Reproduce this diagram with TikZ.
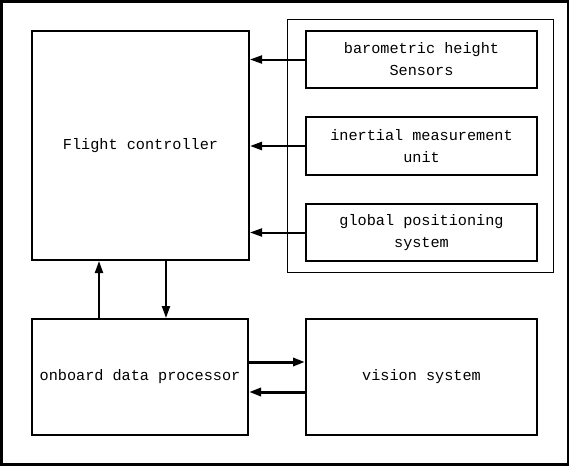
\documentclass[tikz,border=0pt]{standalone}
\usepackage{fontspec}
\setmonofont{Liberation Mono}
\usetikzlibrary{arrows.meta,positioning}

\begin{document}
\begin{tikzpicture}[x=1pt,y=-1pt,black,
block/.style={draw,line width=2pt,inner sep=0pt,align=center,
  font=\ttfamily\fontsize{15.2}{22}\selectfont},
flow/.style={line width=2pt,-{Triangle[length=12pt,width=8pt]}}]
\useasboundingbox (0,0) rectangle (570,466);
\draw[line width=2.5pt] (1.5,1.5) rectangle (568,464.5);
\node[block,minimum width=217pt,minimum height=229pt] (fc) at (140.5,145.5) {Flight controller};
\node[draw,line width=1pt,minimum width=266pt,minimum height=253pt] (group) at (420,145.5) {};
\node[block,minimum width=231pt,minimum height=57pt] (baro) at (421.5,59.5) {barometric height\\Sensors};
\node[block,minimum width=231pt,minimum height=58pt] (imu) at (421.5,146) {inertial measurement\\unit};
\node[block,minimum width=231pt,minimum height=57pt] (gps) at (421.5,232.5) {global positioning\\system};
\node[block,minimum width=216pt,minimum height=116pt] (obp) at (140,377) {onboard data processor};
\node[block,minimum width=231pt,minimum height=116pt] (vis) at (421.5,377) {vision system};
% sensors to controller
\draw[flow] (baro.west) -- (baro.west -| fc.east);
\draw[flow,line width=2.5pt] (imu.west) -- (imu.west -| fc.east);
\draw[flow] (gps.west) -- (gps.west -| fc.east);
% controller and processor
\draw[flow] ([xshift=-41pt]obp.north) -- ([xshift=-41pt]obp.north |- fc.south);
\draw[flow] ([xshift=26pt]obp.north |- fc.south) -- ([xshift=26pt]obp.north);
% processor and vision
\draw[flow,line width=3pt] ([yshift=15pt]obp.east) -- ([yshift=15pt]obp.east -| vis.west);
\draw[flow,line width=3pt] ([yshift=-15pt]obp.east -| vis.west) -- ([yshift=-15pt]obp.east);
\end{tikzpicture}
\end{document}
